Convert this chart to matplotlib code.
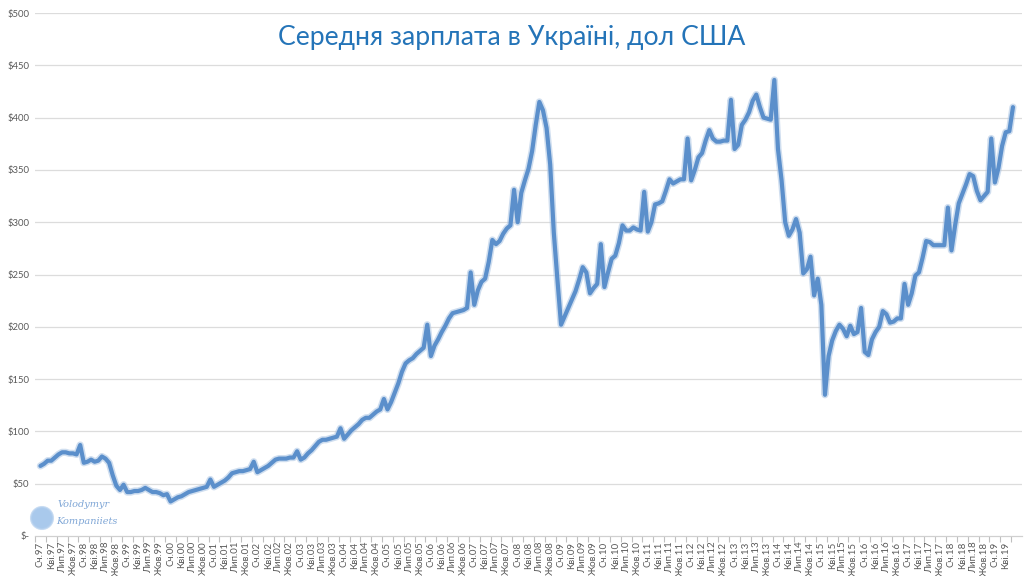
import matplotlib
matplotlib.use("Agg")
import matplotlib.pyplot as plt
import numpy as np
from matplotlib.patches import Ellipse

plt.rcParams['font.family'] = ['Lato', 'DejaVu Sans']

title = "Середня зарплата в Україні, дол США"
start_year = 1997
month_names = {1: "Сч", 4: "Кві", 7: "Лип", 10: "Жов"}

# monthly average wage, USD (Jan 1997 - Jun 2019)
w1997 = [67, 69, 72, 72, 75, 78, 80, 80, 79, 79, 78, 87]
w1998 = [70, 71, 73, 71, 72, 76, 74, 70, 58, 48, 44, 49]
w1999 = [42, 42, 43, 43, 44, 46, 44, 42, 42, 41, 39, 40]
w2000 = [33, 35, 37, 38, 40, 42, 43, 44, 45, 46, 47, 54]
w2001 = [47, 49, 51, 53, 56, 60, 61, 62, 62, 63, 64, 71]
w2002 = [61, 63, 65, 67, 70, 73, 74, 74, 74, 75, 75, 81]
w2003 = [73, 75, 79, 82, 86, 90, 92, 92, 93, 94, 95, 103]
w2004 = [93, 97, 101, 104, 107, 111, 113, 113, 116, 119, 121, 131]
w2005 = [121, 128, 137, 146, 157, 165, 168, 170, 174, 177, 180, 202]
w2006 = [172, 182, 188, 195, 201, 208, 213, 214, 215, 216, 218, 252]
w2007 = [221, 235, 243, 246, 262, 283, 279, 282, 289, 294, 297, 331]
w2008 = [300, 328, 340, 351, 368, 393, 415, 407, 390, 355, 290, 245]
w2009 = [202, 210, 218, 226, 234, 245, 257, 252, 232, 237, 241, 279]
w2010 = [238, 252, 265, 268, 280, 297, 292, 292, 295, 293, 292, 329]
w2011 = [291, 300, 317, 318, 320, 330, 341, 337, 339, 341, 341, 380]
w2012 = [340, 350, 362, 366, 378, 388, 380, 377, 377, 378, 378, 417]
w2013 = [370, 374, 393, 398, 405, 416, 422, 410, 400, 399, 398, 436]
w2014 = [370, 340, 300, 287, 293, 303, 290, 251, 255, 267, 230, 246]
w2015 = [221, 135, 172, 187, 196, 202, 198, 191, 201, 193, 195, 218]
w2016 = [176, 173, 188, 195, 200, 215, 212, 204, 205, 208, 208, 241]
w2017 = [221, 232, 249, 252, 266, 282, 281, 278, 278, 278, 278, 314]
w2018 = [273, 297, 318, 327, 336, 346, 344, 330, 321, 325, 329, 380]
w2019 = [338, 352, 373, 386, 387, 410]

wages = (w1997 + w1998 + w1999 + w2000 + w2001 + w2002 + w2003 + w2004 +
         w2005 + w2006 + w2007 + w2008 + w2009 + w2010 + w2011 + w2012 +
         w2013 + w2014 + w2015 + w2016 + w2017 + w2018 + w2019)

n = len(wages)
x = np.arange(n)
tick_pos = []
tick_lab = []
for i in range(n):
    yr = start_year + i // 12
    mo = i % 12 + 1
    if mo in month_names:
        tick_pos.append(i)
        tick_lab.append(f"{month_names[mo]}.{yr % 100:02d}")

yticks = [0, 50, 100, 150, 200, 250, 300, 350, 400, 450, 500]
ylabels = ["$-" if v == 0 else f"${v}" for v in yticks]

fig = plt.figure(figsize=(10.24, 5.76), dpi=100)
ax = fig.add_axes([35/1024, 40/576, 987/1024, 523/576])

ax.set_xlim(-0.5, n + 1.5)
ax.set_ylim(0, 500)

for v in yticks[1:]:
    ax.axhline(v, color="#DCDCDC", lw=0.9, zorder=0)

# glow / shadow then main line
ax.plot(x, wages, color="#A9C3E3", lw=5.2, alpha=0.55, solid_joinstyle="round",
        solid_capstyle="round", zorder=2)
ax.plot(x, wages, color="#5B8FCB", lw=3.0, solid_joinstyle="round",
        solid_capstyle="round", zorder=3)

ax.set_yticks(yticks)
ax.set_yticklabels(ylabels, fontsize=6.8, color="#595959")
ax.tick_params(axis="y", length=0, pad=4)

ax.set_xticks(tick_pos)
ax.set_xticklabels(tick_lab, rotation=90, fontsize=7, color="#595959")
ax.set_xticks([p - 1.5 for p in tick_pos] + [tick_pos[-1] + 1.5], minor=True)
ax.tick_params(axis="x", which="major", length=0, pad=4)
ax.tick_params(axis="x", which="minor", length=4, color="#BFBFBF", width=0.8)

for s in ["top", "right", "left"]:
    ax.spines[s].set_visible(False)
ax.spines["bottom"].set_color("#D0D0D0")
ax.spines["bottom"].set_linewidth(0.9)

fig.text(0.5, 1 - 38/576, title, ha="center", va="center", fontsize=19.2,
         color="#2474B8")

# watermark logo
c = Ellipse((42/1024, 1 - 518/576), 22/1024, 22/576, transform=fig.transFigure,
            facecolor="#8DB8E6", edgecolor="#B5D0EE", lw=1.5, alpha=0.75)
fig.patches.append(c)
fig.text(58/1024, 1 - 507/576, "Volodymyr", fontsize=7, style="italic",
         color="#7FA6D6", family=["DejaVu Serif"])
fig.text(56/1024, 1 - 524/576, "Kompaniiets", fontsize=7, style="italic",
         color="#7FA6D6", family=["DejaVu Serif"])

fig.savefig("out.png", dpi=100, facecolor="white")
